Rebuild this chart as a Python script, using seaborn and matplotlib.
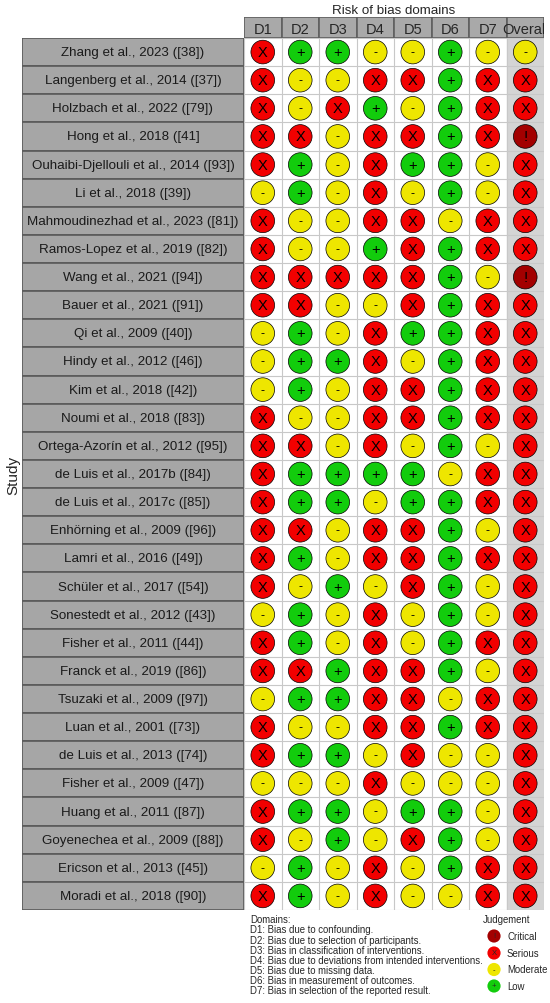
import matplotlib.pyplot as plt
import matplotlib.patches as mpatches
import pandas as pd
import seaborn as sns

# Studies and judgements per domain
studies = [
    "Zhang et al., 2023 ([38])", "Langenberg et al., 2014 ([37])", "Holzbach et al., 2022 ([79])",
    "Hong et al., 2018 ([41]", "Ouhaibi-Djellouli et al., 2014 ([93])", "Li et al., 2018 ([39])",
    "Mahmoudinezhad et al., 2023 ([81])", "Ramos-Lopez et al., 2019 ([82])", "Wang et al., 2021 ([94])",
    "Bauer et al., 2021 ([91])", "Qi et al., 2009 ([40])", "Hindy et al., 2012 ([46])",
    "Kim et al., 2018 ([42])", "Noumi et al., 2018 ([83])", "Ortega-Azorín et al., 2012 ([95])",
    "de Luis et al., 2017b ([84])", "de Luis et al., 2017c ([85])", "Enhörning et al., 2009 ([96])",
    "Lamri et al., 2016 ([49])", "Schüler et al., 2017 ([54])", "Sonestedt et al., 2012 ([43])",
    "Fisher et al., 2011 ([44])", "Franck et al., 2019 ([86])", "Tsuzaki et al., 2009 ([97])",
    "Luan et al., 2001 ([73])", "de Luis et al., 2013 ([74])", "Fisher et al., 2009 ([47])",
    "Huang et al., 2011 ([87])", "Goyenechea et al., 2009 ([88])", "Ericson et al., 2013 ([45])",
    "Moradi et al., 2018 ([90])",
]
# S = Serious, M = Moderate, L = Low, C = Critical
d1 = list("SSSSSMSSSSMMMSSSSSSSMSSMSSMSSMS")
d2 = list("LMMSLLMMSSLLLMSLLSLMLLSLMLMLMLL")
d3 = list("LMSMMMMMSMMLMMMLLMMLMMLLMLMLLMM")
d4 = list("MSLSSSSLSMSSSSSLMSSMSSSSSMSMMSS")
d5 = list("MSMSLMSSSSLMSSMLLSSSMMSSSSMLSMM")
d6 = list("LLLLLLMLLLLLLLLMLLLLLLLMLMMLLLM")
d7 = list("MSSSMMSSMSSSSSMSSMSMMSMSSMMMMSS")
overall = list("MSSCSSSSCSSSSSSSSSSSSSSSSSSSSSS")

domains = ["D1", "D2", "D3", "D4", "D5", "D6", "D7", "Overall"]
domain_text = [
    "D1: Bias due to confounding.",
    "D2: Bias due to selection of participants.",
    "D3: Bias in classification of interventions.",
    "D4: Bias due to deviations from intended interventions.",
    "D5: Bias due to missing data.",
    "D6: Bias in measurement of outcomes.",
    "D7: Bias in selection of the reported result.",
]
levels = {"C": "Critical", "S": "Serious", "M": "Moderate", "L": "Low"}
colors = {"Critical": "#A30000", "Serious": "#F20000", "Moderate": "#EEE600", "Low": "#12CC0C"}
symbols = {"Critical": "!", "Serious": "X", "Moderate": "-", "Low": "+"}

cols = [d1, d2, d3, d4, d5, d6, d7, overall]
rows = []
for j, col in enumerate(cols):
    for i, v in enumerate(col):
        rows.append({"study": studies[i], "row": i, "col": j, "judgement": levels[v]})
df = pd.DataFrame(rows)

sns.set_style("white")
plt.rcParams["font.family"] = ["Liberation Sans", "DejaVu Sans"]

W, H = 550, 1004
fig = plt.figure(figsize=(W / 100, H / 100), dpi=100)
n = len(studies)
top, bottom, left, right = 39, 911, 244, 544

def frame(x0, y0, x1, y1):
    return [x0 / W, 1 - y1 / H, (x1 - x0) / W, (y1 - y0) / H]

# main grid
ax = fig.add_axes(frame(left, top, right, bottom))
ax.set_xlim(-0.5, 7.5)
ax.set_ylim(n - 0.5, -0.5)
ax.add_patch(mpatches.Rectangle((6.5, -0.5), 1, n, color="#d4d4d4", zorder=0))
for k in range(9):
    ax.axvline(k - 0.5, color="#c8c8c8", lw=0.8, zorder=1)
for k in range(n + 1):
    ax.axhline(k - 0.5, color="#c8c8c8", lw=0.8, zorder=1)
sns.scatterplot(data=df, x="col", y="row", hue="judgement", palette=colors, s=290,
                edgecolor="black", linewidth=0.5, legend=False, ax=ax, zorder=3)
for _, r in df.iterrows():
    ax.text(r["col"], r["row"], symbols[r["judgement"]], ha="center", va="center",
            fontsize=10.5 if r["judgement"] != "Moderate" else 9, color="black", zorder=4)
ax.set_xticks([])
ax.set_yticks([])
ax.set_xlabel("")
ax.set_ylabel("")
for s in ax.spines.values():
    s.set_visible(False)

# header
hx = fig.add_axes(frame(left, 18, right, top))
hx.set_xlim(-0.5, 7.5)
hx.set_ylim(0, 1)
for j, d in enumerate(domains):
    hx.add_patch(mpatches.Rectangle((j - 0.5, 0), 1, 1, facecolor="#a9a9a9",
                                    edgecolor="#5f5f5f", lw=1.2))
    hx.text(j, 0.45, d, ha="center", va="center", fontsize=10.5, clip_on=True)
hx.axis("off")
fig.text((left + right) / 2 / W, 1 - 11 / H, "Risk of bias domains", ha="center",
         va="center", fontsize=9.6)

# study labels
lx = fig.add_axes(frame(22, top, left, bottom))
lx.set_xlim(0, 1)
lx.set_ylim(n - 0.5, -0.5)
for i, st in enumerate(studies):
    lx.add_patch(mpatches.Rectangle((0, i - 0.5), 1, 1, facecolor="#a6a6a6",
                                    edgecolor="#5a5a5a", lw=1.2))
    lx.text(0.5, i, st, ha="center", va="center", fontsize=9.6, color="#1a1a1a")
lx.axis("off")
fig.text(13 / W, 1 - 475 / H, "Study", rotation=90, ha="center", va="center", fontsize=11)

# domain legend
fig.text(250 / W, 1 - 920 / H, "Domains:", ha="left", va="center", fontsize=6.9)
for k, t in enumerate(domain_text):
    fig.text(250 / W, 1 - (930.5 + k * 10.1) / H, t, ha="left", va="center", fontsize=6.9)

# judgement legend
gx = fig.add_axes([0, 0, 1, 1])
gx.set_xlim(0, W)
gx.set_ylim(H, 0)
gx.axis("off")
gx.text(507, 920, "Judgement", ha="center", va="center", fontsize=6.9)
leg = pd.DataFrame({"judgement": list(colors.keys()), "y": [937, 954, 970.5, 987]})
sns.scatterplot(data=leg, x=[494] * 4, y="y", hue="judgement", palette=colors, s=90,
                edgecolor="none", legend=False, ax=gx)
for _, r in leg.iterrows():
    gx.text(494, r["y"], symbols[r["judgement"]], ha="center", va="center", fontsize=5.5)
    gx.text(507, r["y"], r["judgement"], ha="left", va="center", fontsize=6.9)

fig.savefig("out.png", dpi=100)
